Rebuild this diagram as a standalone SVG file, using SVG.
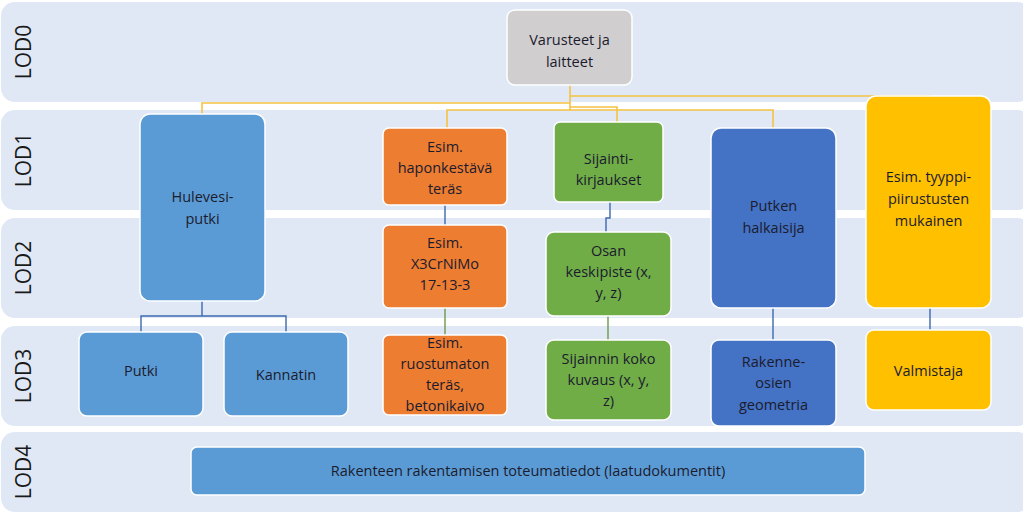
<svg xmlns="http://www.w3.org/2000/svg" width="1023" height="518" viewBox="0 0 1023 518">
<style>
.band{fill:#dfe8f4}
.lod{font-family:"Open Sans","Liberation Sans",sans-serif;font-size:21px;fill:#1a1a1a}
.n rect{stroke:#fff;stroke-width:1.5}
.n text{font-family:"Open Sans","Liberation Sans",sans-serif;font-size:14.5px;fill:#1b1b2e;text-anchor:middle}
.y{stroke:#f5c242;stroke-width:1.6;fill:none}
.b{stroke:#3e6ab0;stroke-width:1.4;fill:none}
.o{stroke:#6e9a4c;stroke-width:1.4;fill:none}
</style>
<rect width="1023" height="518" fill="#fff"/>
<g id="bands">
<rect class="band" x="1" y="2" width="1030" height="100" rx="14"/>
<rect class="band" x="1" y="110" width="1030" height="100" rx="14"/>
<rect class="band" x="1" y="218" width="1030" height="100" rx="14"/>
<rect class="band" x="1" y="326" width="1030" height="100" rx="14"/>
<rect class="band" x="1" y="432" width="1030" height="80" rx="14"/>
<text class="lod" transform="translate(31,52) rotate(-90)" text-anchor="middle">LOD0</text>
<text class="lod" transform="translate(31,160) rotate(-90)" text-anchor="middle">LOD1</text>
<text class="lod" transform="translate(31,268) rotate(-90)" text-anchor="middle">LOD2</text>
<text class="lod" transform="translate(31,376) rotate(-90)" text-anchor="middle">LOD3</text>
<text class="lod" transform="translate(31,472) rotate(-90)" text-anchor="middle">LOD4</text>
</g>
<g id="connectors">
<path class="y" d="M570,85V96H930M570,96V103H202V114M570,103V110H447V128M570,110H773V128M570,107H617V122"/>
<path class="b" d="M202,300V316H141V332M202,316H286V332"/>
<path class="b" d="M445,205V225M610,202V218H606V232M773,308V340M930,308V330"/>
<path class="o" d="M445,308V335M608,316V340"/>
</g>
<g id="n0" class="n"><rect x="507" y="10" width="125" height="75" rx="8" fill="#d0cece"/><text x="569.5" y="45">Varusteet ja</text><text x="569.5" y="67">laitteet</text></g>
<g id="n1" class="n"><rect x="140" y="114" width="125" height="187" rx="10" fill="#5b9bd5"/><text x="202.5" y="202">Hulevesi-</text><text x="202.5" y="224">putki</text></g>
<g id="n2" class="n"><rect x="383" y="128" width="124" height="77" rx="6" fill="#ed7d31"/><text x="445" y="152">Esim.</text><text x="445" y="173">haponkestävä</text><text x="445" y="194">teräs</text></g>
<g id="n3" class="n"><rect x="554" y="122" width="109" height="80" rx="6" fill="#70ad47"/><text x="608.5" y="164">Sijainti-</text><text x="608.5" y="185">kirjaukset</text></g>
<g id="n4" class="n"><rect x="711" y="128" width="125" height="180" rx="10" fill="#4472c4"/><text x="773.5" y="211">Putken</text><text x="773.5" y="233">halkaisija</text></g>
<g id="n5" class="n"><rect x="866" y="96" width="125" height="212" rx="10" fill="#ffc000"/><text x="928.5" y="182">Esim. tyyppi-</text><text x="928.5" y="204">piirustusten</text><text x="928.5" y="226">mukainen</text></g>
<g id="n6" class="n"><rect x="383" y="225" width="124" height="83" rx="6" fill="#ed7d31"/><text x="445" y="248">Esim.</text><text x="445" y="269">X3CrNiMo</text><text x="445" y="290">17-13-3</text></g>
<g id="n7" class="n"><rect x="546" y="232" width="125" height="84" rx="8" fill="#70ad47"/><text x="608.5" y="256">Osan</text><text x="608.5" y="277">keskipiste (x,</text><text x="608.5" y="298">y, z)</text></g>
<g id="n8" class="n"><rect x="79" y="332" width="124" height="84" rx="8" fill="#5b9bd5"/><text x="141" y="376">Putki</text></g>
<g id="n9" class="n"><rect x="224" y="332" width="124" height="84" rx="8" fill="#5b9bd5"/><text x="286" y="380">Kannatin</text></g>
<g id="n10" class="n"><rect x="383" y="335" width="124" height="80" rx="6" fill="#ed7d31"/><text x="445" y="348">Esim.</text><text x="445" y="369">ruostumaton</text><text x="445" y="390">teräs,</text><text x="445" y="411">betonikaivo</text></g>
<g id="n11" class="n"><rect x="546" y="340" width="125" height="80" rx="8" fill="#70ad47"/><text x="608.5" y="364">Sijainnin koko</text><text x="608.5" y="385">kuvaus (x, y,</text><text x="608.5" y="406">z)</text></g>
<g id="n12" class="n"><rect x="711" y="340" width="125" height="86" rx="8" fill="#4472c4"/><text x="773.5" y="367">Rakenne-</text><text x="773.5" y="388">osien</text><text x="773.5" y="410">geometria</text></g>
<g id="n13" class="n"><rect x="866" y="330" width="125" height="80" rx="8" fill="#ffc000"/><text x="928.5" y="376">Valmistaja</text></g>
<g id="n14" class="n"><rect x="191" y="447" width="674" height="48" rx="6" fill="#5b9bd5"/><text x="528" y="476">Rakenteen rakentamisen toteumatiedot (laatudokumentit)</text></g>
</svg>
